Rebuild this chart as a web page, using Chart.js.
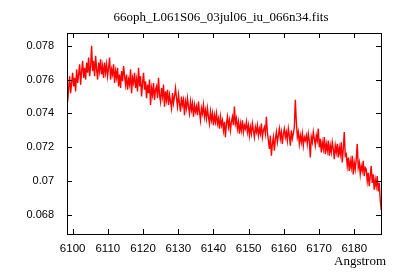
<!DOCTYPE html>
<html>
<head>
<meta charset="utf-8">
<script src="https://cdn.jsdelivr.net/npm/chart.js@4/dist/chart.umd.min.js"></script>
<style>
  html, body { margin: 0; padding: 0; background: #ffffff; }
  #wrap { width: 400px; height: 280px; position: relative; }
</style>
</head>
<body>
<div id="wrap"><canvas id="c" width="400" height="280"></canvas></div>
<script>
const chartTitle = "66oph_L061S06_03jul06_iu_066n34.fits";
const xAxisLabel = "Angstrom";
const xTicks = [6100, 6110, 6120, 6130, 6140, 6150, 6160, 6170, 6180];
const yTicks = [0.068, 0.070, 0.072, 0.074, 0.076, 0.078];
const yTickLabels = ["0.068", "0.07", "0.072", "0.074", "0.076", "0.078"];
const wavelengthStart = 6098.3;
const wavelengthStep = 0.28369;
const flux = [
  0.0760, 0.0747, 0.0755, 0.0762, 0.0752, 0.0758, 0.0764, 0.0756, 0.0761, 0.0753,
  0.0766, 0.0758, 0.0763, 0.0769, 0.0757, 0.0765, 0.0771, 0.0761, 0.0767, 0.0760,
  0.0770, 0.0764, 0.0773, 0.0762, 0.0768, 0.0780, 0.0765, 0.0771, 0.0762, 0.0774,
  0.0766, 0.0760, 0.0770, 0.0765, 0.0772, 0.0763, 0.0768, 0.0761, 0.0770, 0.0764,
  0.0769, 0.0762, 0.0767, 0.0773, 0.0760, 0.0766, 0.0763, 0.0769, 0.0758, 0.0765,
  0.0761, 0.0767, 0.0756, 0.0763, 0.0755, 0.0765, 0.0759, 0.0768, 0.0762, 0.0757,
  0.0763, 0.0754, 0.0760, 0.0757, 0.0766, 0.0752, 0.0761, 0.0758, 0.0764, 0.0755,
  0.0760, 0.0753, 0.0767, 0.0756, 0.0762, 0.0750, 0.0758, 0.0764, 0.0754, 0.0759,
  0.0749, 0.0757, 0.0752, 0.0760, 0.0745, 0.0755, 0.0751, 0.0758, 0.0748, 0.0754,
  0.0756, 0.0749, 0.0761, 0.0751, 0.0747, 0.0755, 0.0750, 0.0757, 0.0744, 0.0753,
  0.0748, 0.0754, 0.0745, 0.0751, 0.0747, 0.0743, 0.0752, 0.0746, 0.0750, 0.0755,
  0.0749, 0.0744, 0.0751, 0.0746, 0.0741, 0.0750, 0.0745, 0.0748, 0.0739, 0.0747,
  0.0743, 0.0749, 0.0744, 0.0740, 0.0747, 0.0742, 0.0746, 0.0738, 0.0745, 0.0741,
  0.0744, 0.0739, 0.0747, 0.0741, 0.0736, 0.0743, 0.0740, 0.0745, 0.0738, 0.0742,
  0.0737, 0.0743, 0.0738, 0.0734, 0.0741, 0.0736, 0.0740, 0.0733, 0.0739, 0.0735,
  0.0740, 0.0734, 0.0737, 0.0731, 0.0738, 0.0733, 0.0736, 0.0730, 0.0735, 0.0726,
  0.0734, 0.0738, 0.0732, 0.0736, 0.0730, 0.0735, 0.0738, 0.0733, 0.0744, 0.0734,
  0.0737, 0.0731, 0.0735, 0.0728, 0.0734, 0.0730, 0.0736, 0.0729, 0.0733, 0.0731,
  0.0735, 0.0729, 0.0733, 0.0727, 0.0732, 0.0728, 0.0734, 0.0730, 0.0726, 0.0732,
  0.0729, 0.0733, 0.0727, 0.0731, 0.0728, 0.0734, 0.0726, 0.0730, 0.0732, 0.0728,
  0.0738, 0.0729, 0.0724, 0.0719, 0.0727, 0.0715, 0.0722, 0.0726, 0.0718, 0.0725,
  0.0729, 0.0723, 0.0727, 0.0731, 0.0725, 0.0729, 0.0722, 0.0728, 0.0731, 0.0726,
  0.0729, 0.0724, 0.0731, 0.0727, 0.0721, 0.0730, 0.0725, 0.0728, 0.0732, 0.0748,
  0.0735, 0.0726, 0.0729, 0.0722, 0.0727, 0.0723, 0.0728, 0.0721, 0.0726, 0.0724,
  0.0727, 0.0722, 0.0728, 0.0724, 0.0714, 0.0726, 0.0723, 0.0729, 0.0725, 0.0721,
  0.0727, 0.0724, 0.0731, 0.0720, 0.0725, 0.0717, 0.0723, 0.0719, 0.0726, 0.0716,
  0.0722, 0.0718, 0.0724, 0.0715, 0.0721, 0.0717, 0.0723, 0.0719, 0.0713, 0.0721,
  0.0717, 0.0722, 0.0714, 0.0720, 0.0716, 0.0723, 0.0711, 0.0719, 0.0729, 0.0715,
  0.0716, 0.0709, 0.0714, 0.0706, 0.0712, 0.0708, 0.0715, 0.0704, 0.0711, 0.0707,
  0.0713, 0.0722, 0.0708, 0.0711, 0.0704, 0.0709, 0.0706, 0.0712, 0.0703, 0.0708,
  0.0707, 0.0700, 0.0705, 0.0697, 0.0703, 0.0709, 0.0699, 0.0704, 0.0695, 0.0701,
  0.0697, 0.0703, 0.0694, 0.0699, 0.0689, 0.0683
];

const points = flux.map((v, i) => ({ x: wavelengthStart + i * wavelengthStep, y: v }));

const framePlugin = {
  id: 'frame',
  afterDraw(chart) {
    const ctx = chart.ctx;
    const a = chart.chartArea;
    const xs = chart.scales.x, ys = chart.scales.y;
    const tl = 5;
    ctx.save();
    ctx.strokeStyle = '#000';
    ctx.lineWidth = 1;
    ctx.beginPath();
    xs.ticks.forEach(t => {
      const px = Math.round(xs.getPixelForValue(t.value)) + 0.5;
      ctx.moveTo(px, a.bottom); ctx.lineTo(px, a.bottom - tl);
      ctx.moveTo(px, a.top); ctx.lineTo(px, a.top + tl);
    });
    ys.ticks.forEach(t => {
      const py = Math.round(ys.getPixelForValue(t.value)) + 0.5;
      ctx.moveTo(a.left, py); ctx.lineTo(a.left + tl, py);
      ctx.moveTo(a.right, py); ctx.lineTo(a.right - tl, py);
    });
    ctx.stroke();
    ctx.strokeRect(Math.round(a.left) + 0.5, Math.round(a.top) + 0.5,
                   Math.round(a.right - a.left), Math.round(a.bottom - a.top));
    ctx.fillStyle = '#000';
    ctx.font = '13px "Liberation Serif"';
    ctx.textAlign = 'center';
    ctx.textBaseline = 'middle';
    ctx.fillText(chartTitle, (a.left + a.right) / 2 - 3, 18);
    ctx.textAlign = 'right';
    ctx.fillText(xAxisLabel, 386, 262);
    ctx.restore();
  }
};

new Chart(document.getElementById('c'), {
  type: 'line',
  data: {
    datasets: [{
      data: points,
      borderColor: '#ff0000',
      borderWidth: 1.4,
      pointRadius: 0,
      tension: 0,
      fill: false
    }]
  },
  options: {
    responsive: false,
    animation: false,
    events: [],
    layout: { padding: { top: 33, right: 19, left: 0, bottom: 0 } },
    plugins: { legend: { display: false }, tooltip: { enabled: false }, title: { display: false } },
    scales: {
      x: {
        type: 'linear',
        min: 6098.4,
        max: 6187.6,
        grid: { display: false, drawTicks: false },
        border: { display: false },
        afterBuildTicks: s => { s.ticks = xTicks.map(v => ({ value: v })); },
        afterFit: s => { s.height = 46; },
        ticks: {
          color: '#000',
          font: { family: '"Liberation Sans"', size: 11.5 },
          padding: 8,
          maxRotation: 0,
          autoSkip: false,
          callback: v => String(v)
        }
      },
      y: {
        min: 0.06688,
        max: 0.07875,
        grid: { display: false, drawTicks: false },
        border: { display: false },
        afterBuildTicks: s => { s.ticks = yTicks.map(v => ({ value: v })); },
        afterFit: s => { s.width = 67; },
        ticks: {
          color: '#000',
          font: { family: '"Liberation Sans"', size: 11 },
          padding: 13,
          autoSkip: false,
          callback: (v, i) => yTickLabels[i]
        }
      }
    }
  },
  plugins: [framePlugin]
});
</script>
</body>
</html>
